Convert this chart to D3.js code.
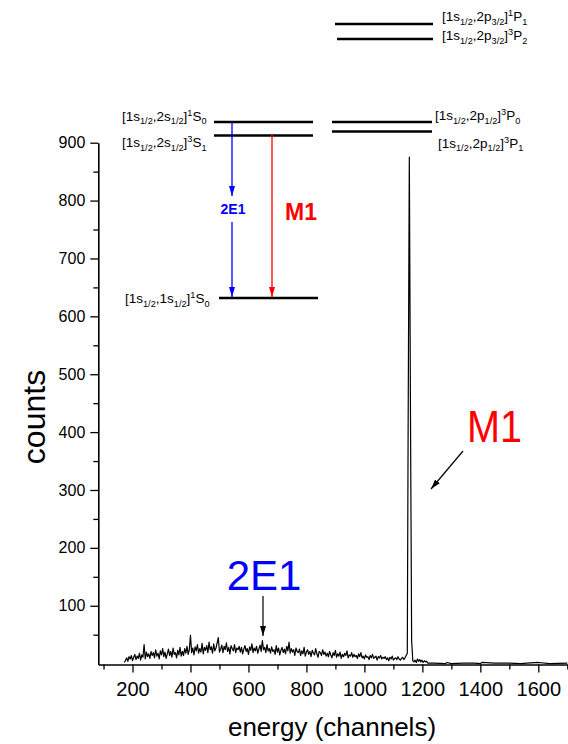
<!DOCTYPE html>
<html><head><meta charset="utf-8">
<script src="https://cdn.jsdelivr.net/npm/d3@7"></script>
<style>
body{margin:0;background:#fff}
svg{display:block}
text{font-family:Arial,"Liberation Sans",Helvetica,sans-serif}
</style>
</head><body>
<svg id="chart" width="568" height="744"></svg>
<script>
// ---------------- data ----------------
const xMajorTicks = [200, 400, 600, 800, 1000, 1200, 1400, 1600];
const xMinorTicks = [100, 300, 500, 700, 900, 1100, 1300, 1500, 1700];
const yMajorTicks = [100, 200, 300, 400, 500, 600, 700, 800, 900];
const yMinorTicks = [50, 150, 250, 350, 450, 550, 650, 750, 850];

// 2E1 continuum: counts read every 4 channels starting at channel 172
const bulkStart = 172, bulkStep = 4;
const bulkCounts = [
  2,6,10,4,12,8,14,5,11,16,7,13,9,18,6,15,11,33,8,20,12,17,9,21,14,
  19,10,24,13,18,8,22,15,26,12,20,9,17,25,14,21,11,27,16,19,10,23,15,28,13,
  21,14,26,18,30,16,24,49,19,27,15,29,22,33,18,26,20,35,17,28,23,31,19,37,24,
  29,18,34,22,27,36,45,20,25,32,19,30,24,36,21,28,17,31,26,22,33,19,27,24,30,
  20,28,17,25,31,21,26,16,29,23,34,19,27,22,30,18,25,32,21,40,24,28,19,33,22,
  26,18,29,21,24,16,31,20,27,15,23,28,19,25,17,30,22,37,18,26,20,24,14,27,21,
  19,25,14,22,17,28,13,20,24,16,21,12,23,18,15,26,17,11,21,19,14,24,16,20,13,
  18,12,21,15,10,19,14,23,11,17,13,20,9,16,12,18,14,22,10,15,13,19,11,16,12,
  14,9,17,12,19,10,13,8,15,11,12,7,14,10,16,9,11,13,6,12,10,14,8,11,9,
  12,7,10,5,11,8,13,6,9,10,7,12,8,6,9,11,7,10,14
];
// M1 line
const peakChannels = [1148, 1151, 1155, 1159, 1163, 1167];
const peakCounts   = [18, 420, 875, 430, 40, 5];
// after the peak
const tailChannels = [1171,1175,1179,1183,1187,1191,1195,1199,1203,1207,1211,1215,1219,1240,1280,1285,1300,1340,1380,1400,1405,1450,1500,1540,1560,1600,1640,1700];
const tailCounts   = [3,6,2,8,4,7,3,6,2,5,3,4,1,1,0,2,0,1,1,0,2,1,1,0,1,2,0,1];

// ---------------- build series ----------------
const spectrum = [];
bulkCounts.forEach((c, i) => spectrum.push({ch: bulkStart + i * bulkStep, c}));
peakChannels.forEach((ch, i) => spectrum.push({ch, c: peakCounts[i]}));
tailChannels.forEach((ch, i) => spectrum.push({ch, c: tailCounts[i]}));

// ---------------- chart ----------------
const svg = d3.select("#chart");
const x = d3.scaleLinear().domain([82, 1700]).range([98.3, 567.3]);
const y = d3.scaleLinear().domain([-1.5, 900]).range([664.5, 142.7]);
const axisY0 = y.range()[0], axisX0 = x.range()[0];

// spectrum line
svg.append("path")
  .datum(spectrum)
  .attr("fill", "none")
  .attr("stroke", "#000")
  .attr("stroke-width", 1.2)
  .attr("stroke-linejoin", "round")
  .attr("d", d3.line().x(d => x(d.ch)).y(d => y(d.c)));

// axes
function styleAxis(g, fs) {
  g.selectAll("path.domain").attr("stroke", "#000").attr("stroke-width", 1.6);
  g.selectAll(".tick line").attr("stroke", "#000").attr("stroke-width", 1.3);
  g.selectAll(".tick text").attr("font-size", fs).attr("fill", "#000")
    .attr("font-family", "Arial, 'Liberation Sans', sans-serif");
}
const gx = svg.append("g").attr("transform", `translate(0,${axisY0})`)
  .call(d3.axisBottom(x).tickValues(xMajorTicks).tickSize(8).tickSizeOuter(0).tickPadding(9).tickFormat(d3.format("d")));
styleAxis(gx, 20);
const gxm = svg.append("g").attr("transform", `translate(0,${axisY0})`)
  .call(d3.axisBottom(x).tickValues(xMinorTicks).tickSize(5).tickSizeOuter(0).tickFormat(""));
styleAxis(gxm, 20);
gxm.select("path.domain").remove();

const gy = svg.append("g").attr("transform", `translate(${axisX0},0)`)
  .call(d3.axisLeft(y).tickValues(yMajorTicks).tickSize(8).tickSizeOuter(0).tickPadding(5).tickFormat(d3.format("d")));
styleAxis(gy, 16);
const gym = svg.append("g").attr("transform", `translate(${axisX0},0)`)
  .call(d3.axisLeft(y).tickValues(yMinorTicks).tickSize(5).tickSizeOuter(0).tickFormat(""));
styleAxis(gym, 16);
gym.select("path.domain").remove();

// axis titles
svg.append("text")
  .attr("transform", "translate(45,417) rotate(-90)")
  .attr("text-anchor", "middle")
  .attr("font-size", 32)
  .text("counts");
svg.append("text")
  .attr("x", 332).attr("y", 736)
  .attr("text-anchor", "middle")
  .attr("font-size", 26)
  .text("energy (channels)");

// ---------------- annotations ----------------
const defs = svg.append("defs");
function marker(id, color, w, l) {
  defs.append("marker").attr("id", id)
    .attr("markerUnits", "userSpaceOnUse")
    .attr("viewBox", `0 ${-w/2} ${l} ${w}`)
    .attr("refX", l).attr("refY", 0)
    .attr("markerWidth", l).attr("markerHeight", w)
    .attr("orient", "auto")
    .append("path").attr("d", `M0,${-w/2}L${l},0L0,${w/2}Z`).attr("fill", color);
}
marker("hb", "#0000ff", 6, 10);
marker("hr", "#ff0000", 6, 10);
marker("hk", "#000", 6, 10);

const ann = svg.append("g");
function seg(x1, y1, x2, y2, color, w, m) {
  const l = ann.append("line").attr("x1", x1).attr("y1", y1).attr("x2", x2).attr("y2", y2)
    .attr("stroke", color).attr("stroke-width", w);
  if (m) l.attr("marker-end", `url(#${m})`);
}

// energy levels
const levelLines = [
  [214, 313, 122], [214, 313, 135.5],
  [332, 432, 122], [332, 432, 131.5],
  [335, 433, 24],  [337, 433, 39],
  [219, 318, 298]
];
levelLines.forEach(([a, b, yy]) => seg(a, yy, b, yy, "#000", 2.4));

// transitions
seg(232, 122, 232, 196, "#0000ff", 1.3, "hb");
seg(232, 222, 232, 297, "#0000ff", 1.3, "hb");
seg(272, 134, 272, 297, "#ff0000", 1.3, "hr");
ann.append("text").attr("x", 233).attr("y", 214).attr("text-anchor", "middle")
  .attr("font-size", 14).attr("font-weight", "bold").attr("fill", "#0000ff").text("2E1");
ann.append("text").attr("x", 285).attr("y", 220)
  .attr("font-size", 23).attr("font-weight", "bold").attr("fill", "#ff0000").text("M1");

// level labels with sub/superscripts
function rich(xx, yy, parts, size) {
  const t = ann.append("text").attr("x", xx).attr("y", yy).attr("font-size", size).attr("fill", "#000");
  let cur = 0;
  parts.forEach(([s, k]) => {
    const target = k === "sub" ? 3.5 : k === "sup" ? -5 : 0;
    t.append("tspan").attr("dy", target - cur)
      .attr("font-size", k ? size * 0.68 : size).text(s);
    cur = target;
  });
}
const lab = (a, b, c, d, e) => [["[1s",""],["1/2","sub"],[","+a,""],[b,"sub"],["]",""],[c,"sup"],[d,""],[e,"sub"]];
const fsLev = 13.5;
rich(122, 120.5, lab("2s","1/2","1","S","0"), fsLev);
rich(122, 147,   lab("2s","1/2","3","S","1"), fsLev);
rich(125, 303,   lab("1s","1/2","1","S","0"), fsLev);
rich(435, 120,   lab("2p","1/2","3","P","0"), fsLev);
rich(438, 147.5, lab("2p","1/2","3","P","1"), fsLev);
rich(442, 21,    lab("2p","3/2","1","P","1"), fsLev);
rich(442, 40,    lab("2p","3/2","3","P","2"), fsLev);

// big peak labels
ann.append("text").attr("x", 264).attr("y", 590).attr("text-anchor", "middle")
  .attr("font-size", 42).attr("fill", "#0000ff").text("2E1");
seg(263, 596, 263, 636, "#000", 1.2, "hk");
ann.append("text").attr("x", 467).attr("y", 442)
  .attr("font-size", 44).attr("fill", "#ff0000")
  .attr("textLength", 55).attr("lengthAdjust", "spacingAndGlyphs").text("M1");
seg(463, 451, 431, 489, "#000", 1.2, "hk");
</script>
</body></html>
